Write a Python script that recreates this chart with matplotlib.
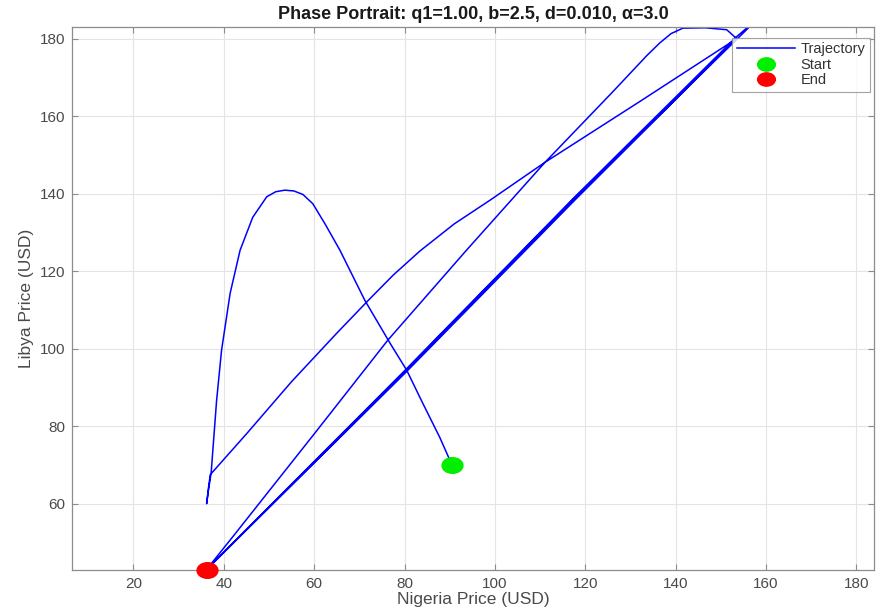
import matplotlib
matplotlib.use("Agg")
import matplotlib.pyplot as plt
from matplotlib.path import Path
from matplotlib.transforms import Affine2D

plt.rcParams['font.family'] = ['Liberation Sans', 'DejaVu Sans']

# trajectory vertices (Nigeria price, Libya price)
# start -> peak -> dip at the left -> line A up to the top-right corner
# -> thick line down -> line B up along the top -> thick passes -> end
nigeria = [
    90.5, 87.8, 84.0, 80.5, 76.8, 71.2, 65.7, 62.5, 59.7, 57.5, 55.5, 53.5,
    51.5, 49.5, 46.4, 43.6, 41.4, 39.5, 38.4, 37.2, 36.6, 36.2,
    36.6, 37.0, 45.0, 55.0, 65.0, 72.0, 77.5, 83.4, 91.0, 98.9, 111.1, 132.1, 153.5,
    117.3, 80.1, 36.3,
    42.0, 60.0, 76.3, 93.7, 111.1, 126.1, 133.6, 136.5, 139.0, 141.6, 146.5, 151.3, 153.5,
    117.4, 80.2, 36.4,
    80.0, 117.2, 153.4, 158.5,
    117.3, 80.1, 36.2,
]
libya = [
    70.0, 77.1, 86.0, 94.4, 101.4, 112.5, 125.4, 132.0, 137.4, 139.8, 140.7, 140.9,
    140.5, 139.2, 133.9, 125.4, 114.3, 99.6, 86.6, 68.0, 63.5, 60.0,
    64.0, 67.5, 78.0, 91.5, 104.0, 112.5, 119.0, 125.2, 132.2, 138.3, 148.1, 163.8, 180.0,
    138.3, 94.0, 43.2,
    51.5, 78.0, 102.2, 125.4, 148.1, 166.3, 175.6, 178.9, 181.3, 182.7, 182.8, 182.3, 180.0,
    138.0, 93.8, 43.3,
    94.3, 138.6, 180.4, 185.5,
    138.5, 94.2, 43.0,
]

start_pt = (nigeria[0], libya[0])
end_pt = (nigeria[-1], libya[-1])

fig = plt.figure(figsize=(8.81, 6.15), dpi=100)
ax = fig.add_axes([72 / 881, 45 / 615, 802 / 881, 543 / 615])

ell = Path.unit_circle().transformed(Affine2D().scale(1.0, 0.75))

ax.plot(nigeria, libya, color='blue', lw=1.1, label='Trajectory', zorder=2)
ax.plot(*start_pt, linestyle='none', marker=ell, ms=15, color='#00ee00',
        mec='#00ee00', label='Start', zorder=3, clip_on=False)
ax.plot(*end_pt, linestyle='none', marker=ell, ms=15, color='red',
        mec='red', label='End', zorder=3, clip_on=False)

ax.set_xlim(6.4, 183.9)
ax.set_ylim(42.9, 183.0)
ax.set_xticks(range(20, 181, 20))
ax.set_yticks(range(60, 181, 20))

ax.grid(True, color='#e4e4e4', lw=0.8)
ax.set_axisbelow(True)
for s in ax.spines.values():
    s.set_color('#8c8c8c')
    s.set_linewidth(0.9)
ax.tick_params(direction='in', top=True, right=True, length=4,
               color='#8c8c8c', labelcolor='#4a4a4a', labelsize=11, pad=5)

ax.set_title('Phase Portrait: q1=1.00, b=2.5, d=0.010, α=3.0',
             fontsize=13, fontweight='bold', color='#1a1a1a', pad=6)
ax.set_xlabel('Nigeria Price (USD)', fontsize=12.5, color='#4a4a4a', labelpad=1)
ax.set_ylabel('Libya Price (USD)', fontsize=12.5, color='#4a4a4a', labelpad=4)

leg = ax.legend(loc='upper right', bbox_to_anchor=(0.995, 0.98), borderaxespad=0,
                fontsize=10.5, handlelength=4.0, numpoints=1, fancybox=False,
                labelspacing=0.1, borderpad=0.3, handletextpad=0.4,
                markerscale=0.85)
leg.get_frame().set_edgecolor('#8c8c8c')
leg.get_frame().set_linewidth(0.8)
for t in leg.get_texts():
    t.set_color('#333333')

fig.savefig('out.png', dpi=100)
